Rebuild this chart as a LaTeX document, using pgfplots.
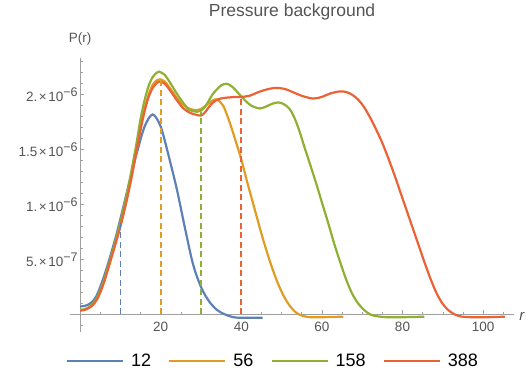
\documentclass[border=0pt]{standalone}
\usepackage{fontspec}
\setmainfont{Liberation Sans}
\usepackage{pgfplots}
\pgfplotsset{compat=1.18}
\definecolor{c1}{HTML}{5E81B5}
\definecolor{c2}{HTML}{E19C24}
\definecolor{c3}{HTML}{8FB032}
\definecolor{c4}{HTML}{EB6235}
\definecolor{axgray}{HTML}{A0A0A0}
\definecolor{txtgray}{HTML}{555555}
\newcommand{\sci}[2]{#1\hspace{1.5pt}×\hspace{1.5pt}10\raisebox{5pt}{\fontsize{12.5}{13}\selectfont −#2}}
\begin{document}
\begin{tikzpicture}
\begin{axis}[
  scale only axis, width=444pt, height=273pt,
  xmin=-2.5, xmax=107.7, ymin=-0.155, ymax=2.33,
  axis lines=middle,
  axis line style={axgray, line width=0.6pt, -},
  clip=false,
  xtick={20,40,60,80,100}, xticklabels={20,40,60,80,100},
  minor xtick={5,10,15,25,30,35,45,50,55,65,70,75,85,90,95,105},
  ytick={0.5,1,1.5,2},
  yticklabels={\sci{5.}{7},\sci{1.}{6},\sci{1.5}{6},\sci{2.}{6}},
  minor ytick={-0.1,0.1,0.2,0.3,0.4,0.6,0.7,0.8,0.9,1.1,1.2,1.3,1.4,1.6,1.7,1.8,1.9,2.1,2.2,2.3},
  tick align=inside,
  major tick length=4pt, minor tick length=2.5pt,
  tick style={axgray, line width=0.6pt},
  ticklabel style={font=\fontsize{13.5}{15}\selectfont, text=txtgray},
  xticklabel style={yshift=-4pt},
  yticklabel style={xshift=1pt},
  title={Pressure background},
  title style={at={(axis description cs:0.5,1.15)}, anchor=center, font=\fontsize{17.5}{20}\selectfont, text=txtgray},
  xlabel={\textit{r}},
  every axis x label/.style={at={(axis description cs:1.018,0.055)}, anchor=center, font=\fontsize{15}{17}\selectfont, text=txtgray},
  legend style={at={(axis description cs:0.457,-0.107)}, anchor=center, draw=none, fill=none, legend columns=4, font=\fontsize{18}{20}\selectfont, /tikz/every even column/.append style={column sep=15pt}, /tikz/every odd column/.append style={column sep=5pt}},
  legend image code/.code={\draw[#1, line width=2.2pt] (0pt,0pt) -- (56pt,0pt);},
]
\path (rel axis cs:-0.1577,-0.1868) rectangle (rel axis cs:1.038,1.2125);
\node[font=\fontsize{13.5}{15}\selectfont, text=txtgray, anchor=center] at (rel axis cs:0.0225,1.073) {P(r)};

\addplot[c1, line width=2.2pt, smooth] coordinates {
(0,0.073) (1,0.077) (2,0.09) (3,0.115) (4,0.165) (5,0.25) (6,0.355) (7,0.47) (8,0.595) (9,0.725) (10,0.87) (11,1.02) (12,1.17) (14,1.46) (16,1.71) (18,1.82) (20,1.71) (22,1.44) (24,1.14) (26,0.79) (28,0.46) (30,0.25) (32,0.12) (34,0.04) (36,0.0) (38,-0.025) (40,-0.03) (42,-0.03) (45.3,-0.03)};
\addlegendentry{12}

\addplot[c2, line width=2.2pt, smooth] coordinates {
(0,0.04) (1,0.044) (2,0.06) (3,0.087) (4,0.135) (5,0.21) (6,0.31) (7,0.43) (8,0.555) (9,0.68) (10,0.81) (11,0.96) (12,1.13) (13,1.31) (14,1.50) (15,1.70) (16,1.87) (17,2.0) (18,2.09) (19,2.13) (19.8,2.14) (21,2.12) (22.5,2.05) (24,1.97) (25.5,1.91) (27,1.875) (28.5,1.86) (30,1.87) (31.5,1.91) (33,1.95) (34,1.955) (35.5,1.90) (37,1.76) (38.5,1.59) (40,1.41) (41.5,1.20) (43,1.0) (44.5,0.80) (46,0.61) (47.5,0.44) (49,0.29) (50.5,0.17) (52,0.08) (53.5,0.02) (55,-0.01) (57,-0.025) (60,-0.025) (65.3,-0.02)};
\addlegendentry{56}

\addplot[c3, line width=2.2pt, smooth] coordinates {
(0,0.042) (1,0.046) (2,0.062) (3,0.09) (4,0.14) (5,0.215) (6,0.32) (7,0.44) (8,0.565) (9,0.70) (10,0.84) (11,1.0) (12,1.17) (13,1.36) (14,1.56) (15,1.78) (16,1.95) (17,2.08) (18,2.16) (19,2.20) (19.6,2.21) (21,2.18) (22.5,2.10) (24,2.01) (25.5,1.93) (27,1.865) (29,1.845) (30,1.855) (31,1.89) (32,1.95) (33,2.01) (34,2.05) (35,2.085) (36.3,2.10) (37.5,2.08) (38.5,2.045) (39.6,2.0) (41,1.945) (42.5,1.90) (44.5,1.875) (46,1.89) (47.5,1.915) (49.1,1.93) (50.5,1.915) (52,1.87) (53.3,1.78) (54.5,1.66) (55.7,1.52) (56.9,1.385) (58.6,1.19) (60,1.02) (61.5,0.84) (63,0.65) (64.5,0.48) (66,0.32) (67.5,0.19) (69,0.10) (70.5,0.04) (72,0.0) (73.5,-0.015) (76,-0.025) (80,-0.025) (85.4,-0.02)};
\addlegendentry{158}

\addplot[c4, line width=2.2pt, smooth] coordinates {
(0,0.036) (1,0.04) (2,0.055) (3,0.08) (4,0.125) (5,0.2) (6,0.3) (7,0.42) (8,0.545) (9,0.67) (10,0.80) (11,0.95) (12,1.11) (13,1.29) (14,1.49) (15,1.68) (16,1.85) (17,1.98) (18,2.06) (19,2.105) (19.8,2.12) (21,2.10) (22.5,2.03) (24,1.95) (25.5,1.88) (27,1.84) (28.5,1.82) (30,1.81) (31,1.84) (32,1.89) (33,1.93) (34,1.955) (35.5,1.97) (37,1.975) (38.5,1.98) (40,1.98) (42,1.99) (44,2.02) (46,2.045) (48,2.06) (49.5,2.06) (51,2.05) (53,2.02) (55,1.99) (57.8,1.965) (60,1.98) (62,2.01) (64.4,2.03) (66,2.025) (67.5,2.0) (69,1.955) (70.5,1.885) (72,1.79) (73.5,1.68) (75,1.56) (76.5,1.42) (78,1.27) (79.5,1.11) (81,0.95) (82.5,0.79) (84,0.63) (85.5,0.47) (87,0.32) (88.5,0.19) (90,0.095) (91.5,0.035) (93,0.0) (94.5,-0.018) (97,-0.025) (101,-0.025) (105.4,-0.02)};
\addlegendentry{388}

\addplot[c1, line width=1.8pt, dash pattern=on 6pt off 3.5pt, forget plot] coordinates {(10,0) (10,0.86)};
\addplot[c2, line width=1.8pt, dash pattern=on 6pt off 3.5pt, forget plot] coordinates {(20,0) (20,2.13)};
\addplot[c3, line width=1.8pt, dash pattern=on 6pt off 3.5pt, forget plot] coordinates {(30,0) (30,1.845)};
\addplot[c4, line width=1.8pt, dash pattern=on 6pt off 3.5pt, forget plot] coordinates {(40,0) (40,1.975)};
\end{axis}
\end{tikzpicture}
\end{document}
